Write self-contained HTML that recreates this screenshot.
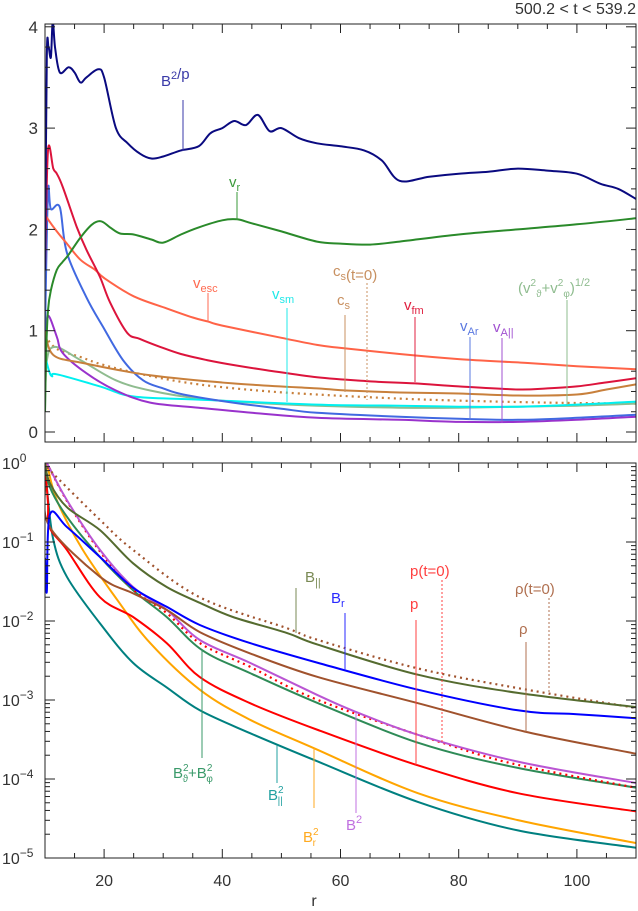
<!DOCTYPE html>
<html><head><meta charset="utf-8"><style>
html,body{margin:0;padding:0;background:#fff;}
svg{display:block;font-family:"Liberation Sans",sans-serif;}
</style></head><body>
<svg id="chart" width="638" height="911" viewBox="0 0 638 911">
<defs>
<clipPath id="ctop"><rect x="45" y="24" width="591" height="418"/></clipPath>
<clipPath id="cbot"><rect x="45" y="463" width="591" height="395"/></clipPath>
</defs>
<text x="636" y="14" text-anchor="end" font-size="16" fill="#333">500.2 &lt; t &lt; 539.2</text>
<g id="top"></g>
<g id="bot"></g>
<g id="labels"></g>
<rect x="45" y="24" width="591" height="418" fill="none" stroke="#222" stroke-width="1"/>
<rect x="45" y="463" width="591" height="395" fill="none" stroke="#222" stroke-width="1"/>
<text x="314" y="906" text-anchor="middle" font-size="16" fill="#333">r</text>
</svg>
<script>
// ---- x axis ----
const xTicks = [20, 40, 60, 80, 100];
// ---- top panel (linear) ----
const topTicks = [0, 1, 2, 3, 4];
const rBp = [10,10.3,10.6,11,11.3,11.7,12.5,14,15,16,17,19,20,22,24,26,28,30,33,36,38,40,42,44,46,48,50,53,56,60,64,67,70,75,80,85,90,95,100,104,107,110];
const vBp = [1.6,3.7,3.8,3.7,4.05,3.8,3.55,3.6,3.55,3.45,3.5,3.58,3.5,3.0,2.85,2.75,2.7,2.72,2.78,2.82,2.95,3.0,3.07,3.03,3.13,2.97,3.0,2.9,2.85,2.82,2.78,2.68,2.48,2.52,2.55,2.57,2.6,2.58,2.55,2.45,2.4,2.3];
const rVr = [10,10.2,10.5,11,12,13,14,16,18,19.5,21,22.7,25,28,30,33,36,40,42.5,45,50,56,60,65,70,80,90,100,110];
const vVr = [0.2,0.8,1.2,1.4,1.6,1.68,1.75,1.92,2.05,2.08,2.02,1.96,1.95,1.9,1.87,1.95,2.02,2.09,2.1,2.06,1.98,1.88,1.86,1.85,1.88,1.95,2.0,2.05,2.11];
const rEsc = [10,10.5,12,13.7,16,18.5,20,25,30.6,35,37.6,40,50,56,60,70,80,92,100,110];
const vEsc = [2.15,2.1,1.98,1.86,1.7,1.6,1.52,1.34,1.22,1.13,1.09,1.05,0.93,0.86,0.83,0.77,0.72,0.68,0.65,0.62];
const rFm = [10,10.5,11.4,12,13,15.4,17,19.3,21,23.9,26,29.5,33,37.4,42,47.5,56,65,72.6,80,90,95,100,105,110];
const vFm = [1.6,2.78,2.6,2.55,2.42,2.02,1.8,1.53,1.28,0.98,0.92,0.84,0.77,0.71,0.66,0.61,0.54,0.5,0.48,0.45,0.42,0.43,0.45,0.49,0.53];
const rAr = [10,10.5,11,12.5,13.7,17,19.8,23.2,26.6,30,33.4,41.8,50,56,70,80,90,100,110];
const vAr = [1.0,2.37,2.2,2.22,1.77,1.33,1.04,0.71,0.51,0.43,0.37,0.29,0.23,0.19,0.15,0.13,0.12,0.14,0.17];
const rApar = [10,10.5,12,13,17,22,27.8,36,45,56,70,80,90,100,110];
const vApar = [0.9,1.15,0.94,0.78,0.58,0.41,0.29,0.24,0.19,0.14,0.12,0.1,0.1,0.12,0.15];
const rVperp = [10,10.3,11.7,16,22,27.8,36,45,56,70,80,90,100,110];
const vVperp = [0.2,0.7,0.84,0.71,0.51,0.41,0.33,0.29,0.26,0.24,0.24,0.25,0.26,0.28];
const rCs = [10,11.4,16.5,27.8,41.8,56,61,70,80,90,100,105,110];
const vCs = [1.0,0.76,0.68,0.56,0.48,0.43,0.41,0.39,0.38,0.36,0.37,0.42,0.47];
const rCs0 = [10,12,16,20,28,36,46,56,70,80,95,110];
const vCs0 = [0.95,0.82,0.74,0.66,0.55,0.47,0.41,0.37,0.33,0.31,0.29,0.28];
const rSm = [10,10.7,11.2,12,19.3,25,36,56,70,80,90,100,110];
const vSm = [0.75,0.6,0.55,0.57,0.45,0.35,0.32,0.27,0.26,0.25,0.25,0.27,0.3];
// ---- bottom panel (log10 values) ----
const logTicks = [0, -1, -2, -3, -4, -5];
const rBpar = [10,10.8,13.7,19.3,24.9,30.6,36.2,41.8,50.9,56.2,73.1,90,110];
const lBpar = [0,-0.25,-0.56,-0.85,-1.27,-1.57,-1.77,-1.95,-2.15,-2.3,-2.68,-2.91,-3.09];
const rRho0 = [10,10.8,19.3,24.9,36.2,50.9,56.2,73.1,90,110];
const lRho0 = [0,-0.09,-0.72,-1.1,-1.7,-2.09,-2.24,-2.6,-2.85,-3.1];
const rBr = [10,10.3,10.8,13.7,19.3,24.9,30.6,36.2,44.7,56.2,73.1,90,100,110];
const lBr = [-1.2,-1.63,-0.66,-0.81,-1.19,-1.58,-1.82,-2.05,-2.28,-2.53,-2.87,-3.13,-3.18,-3.23];
const rRho = [10,10.8,19.3,24.9,30.6,36.2,44.7,56.2,73.1,91.2,110];
const lRho = [-0.3,-0.81,-1.44,-1.65,-1.86,-2.14,-2.41,-2.71,-3.04,-3.4,-3.68];
const rB2 = [10,10.3,13.7,19.3,24.9,30.6,36.2,44.7,56.2,62.6,73.1,90,110];
const lB2 = [0,0,-0.47,-1.1,-1.57,-1.86,-2.24,-2.53,-2.94,-3.15,-3.44,-3.78,-4.05];
const rP0 = [10,10.3,13.7,19.3,24.9,30.6,36.2,44.7,56.2,77.2,90,110];
const lP0 = [0,0,-0.48,-1.12,-1.6,-1.9,-2.28,-2.58,-3.0,-3.54,-3.82,-4.11];
const rBperp = [10,10.8,13.7,19.3,24.9,30.6,36.6,44.7,56.2,73.1,90,110];
const lBperp = [0,-0.3,-0.68,-1.19,-1.61,-1.95,-2.37,-2.66,-3.04,-3.54,-3.86,-4.11];
const rP = [10,10.5,10.8,13.7,19.3,24.9,30.6,36.2,44.7,56.2,72.8,90,110];
const lP = [0,-0.51,-0.82,-1.1,-1.7,-1.95,-2.28,-2.71,-3.04,-3.38,-3.82,-4.18,-4.41];
const rBr2 = [10,10.3,12,16.4,22.2,27.8,36.2,44.7,55.5,73.1,90,110];
const lBr2 = [0,0,-0.47,-1.1,-1.73,-2.28,-2.87,-3.25,-3.61,-4.18,-4.52,-4.81];
const rBpar2 = [10,10.3,11.4,13.7,19.3,24.9,30.6,36.2,44.7,56.2,73.1,90,110];
const lBpar2 = [0,-0.3,-0.97,-1.44,-2.03,-2.53,-2.84,-3.13,-3.42,-3.78,-4.29,-4.65,-4.87];

const NS = 'http://www.w3.org/2000/svg';
function X(r){ return 45 + (r - 10) * 5.91; }
function YT(v){ return 432 - v * 101.3; }
function YB(l){ return 463 - l * 79; }
function mk(tag, attrs, parent){
  const e = document.createElementNS(NS, tag);
  for (const k in attrs) e.setAttribute(k, attrs[k]);
  parent.appendChild(e);
  return e;
}
const topG = document.getElementById('top');
const botG = document.getElementById('bot');
const labG = document.getElementById('labels');
const svg = document.getElementById('chart');

function smoothPath(pts){
  let d = 'M' + pts[0][0].toFixed(1) + ',' + pts[0][1].toFixed(1);
  for (let i = 0; i < pts.length - 1; i++){
    const p0 = pts[Math.max(0, i-1)], p1 = pts[i], p2 = pts[i+1], p3 = pts[Math.min(pts.length-1, i+2)];
    const c1x = p1[0] + (p2[0]-p0[0])/6, c1y = p1[1] + (p2[1]-p0[1])/6;
    const c2x = p2[0] - (p3[0]-p1[0])/6, c2y = p2[1] - (p3[1]-p1[1])/6;
    d += 'C' + c1x.toFixed(1) + ',' + c1y.toFixed(1) + ' ' + c2x.toFixed(1) + ',' + c2y.toFixed(1) + ' ' + p2[0].toFixed(1) + ',' + p2[1].toFixed(1);
  }
  return d;
}
function line(rs, vs, yf, color, name, parent, clip, dotted){
  const pts = rs.map((r,i)=>[X(r), yf(vs[i])]);
  const p = mk('path', {d:smoothPath(pts), fill:'none', stroke:color, 'stroke-width':2, 'clip-path':'url(#'+clip+')', 'stroke-linejoin':'round'}, parent);
  if (dotted){ p.setAttribute('stroke-dasharray','2 4'); p.setAttribute('stroke-width','2.2'); }
  
  
}
// top series
line(rCs0, vCs0, YT, '#c8803c', 'cs-t0-line', topG, 'ctop', true);
line(rVperp, vVperp, YT, '#8fbc8f', 'vperp-line', topG, 'ctop');
line(rSm, vSm, YT, '#00f0f0', 'vsm-line', topG, 'ctop');
line(rApar, vApar, YT, '#9932cc', 'va-par-line', topG, 'ctop');
line(rAr, vAr, YT, '#4169e1', 'var-line', topG, 'ctop');
line(rCs, vCs, YT, '#c8803c', 'cs-line', topG, 'ctop');
line(rEsc, vEsc, YT, '#ff6347', 'vesc-line', topG, 'ctop');
line(rFm, vFm, YT, '#dc143c', 'vfm-line', topG, 'ctop');
line(rVr, vVr, YT, '#2a8a2a', 'vr-line', topG, 'ctop');
line(rBp, vBp, YT, '#0a0a80', 'b2-over-p-line', topG, 'ctop');
// bottom series
line(rBpar2, lBpar2, YB, '#008080', 'bpar2-line', botG, 'cbot');
line(rBr2, lBr2, YB, '#ffa500', 'br2-line', botG, 'cbot');
line(rP, lP, YB, '#ff0000', 'p-line', botG, 'cbot');
line(rBperp, lBperp, YB, '#2e8b57', 'bperp2-line', botG, 'cbot');
line(rP0, lP0, YB, '#ff0000', 'p-t0-line', botG, 'cbot', true);
line(rB2, lB2, YB, '#ba55d3', 'b2-line', botG, 'cbot');
line(rRho, lRho, YB, '#a0522d', 'rho-line', botG, 'cbot');
line(rBr, lBr, YB, '#0000ff', 'br-line', botG, 'cbot');
line(rRho0, lRho0, YB, '#a0522d', 'rho-t0-line', botG, 'cbot', true);
line(rBpar, lBpar, YB, '#556b2f', 'bpar-line', botG, 'cbot');

// ticks
const tk = mk('g', {stroke:'#222','stroke-width':1}, svg);


for (let r = 15; r < 110; r += 5){
  const x = X(r), len = (r % 20 === 0) ? 9 : 5;
  [[24,1],[442,-1],[463,1],[858,-1]].forEach(([y,s])=>mk('line',{x1:x,x2:x,y1:y,y2:y+s*len},tk));
}
for (let v = 0; v <= 4.01; v += 0.2){
  const y = YT(v), major = Math.abs(v - Math.round(v)) < 1e-6, len = major ? 10 : 5;
  mk('line',{x1:45,x2:45+len,y1:y,y2:y},tk);
  mk('line',{x1:636,x2:636-len,y1:y,y2:y},tk);
}
for (let d = -5; d < 0; d++){
  for (let m = 1; m <= 9; m++){
    const l = d + Math.log10(m), y = YB(l), len = m === 1 ? 10 : 5;
    mk('line',{x1:45,x2:45+len,y1:y,y2:y},tk);
    mk('line',{x1:636,x2:636-len,y1:y,y2:y},tk);
  }
}
// tick labels
xTicks.forEach(r=>{
  const t = mk('text',{x:X(r),y:886,'text-anchor':'middle','font-size':16,fill:'#333'},svg);
  t.textContent = r;
  
  
});
topTicks.forEach(v=>{
  const t = mk('text',{x:38,y:YT(v)+6,'text-anchor':'end','font-size':17,fill:'#333'},svg);
  t.textContent = v;
  
  
});
logTicks.forEach(l=>{
  const t = mk('text',{x:2,y:YB(l)+6,'font-size':16,fill:'#333'},svg);
  
  
  t.innerHTML = '10<tspan dy="-7" font-size="12">'+(l===0?'0':'\u2212'+(-l))+'</tspan>';
});

// curve labels with marker lines
function lab(html, x, y, color, name, lx, y1, y2, dotted){
  const t = mk('text',{x:x,y:y,'font-size':15,fill:color},labG);
  t.innerHTML = html;
  
  
  const l = mk('line',{x1:lx,x2:lx,y1:y1,y2:y2,stroke:color,'stroke-width':1},labG);
  if (dotted) l.setAttribute('stroke-dasharray','2 2');
  
  
}
const sub = s=>'<tspan dy="4" font-size="11">'+s+'</tspan><tspan dy="-4"></tspan>';
const sup = s=>'<tspan dy="-7" font-size="11">'+s+'</tspan><tspan dy="7"></tspan>';
lab('B'+sup('2')+'/p', 161, 86, '#3a3aa8', 'label-b2-over-p', 183, 100, 151);
lab('v'+sub('r'), 229, 187, '#3a9a3a', 'label-vr', 237, 192, 220);
lab('v'+sub('esc'), 193, 288, '#ff6a50', 'label-vesc', 208, 293, 322);
lab('v'+sub('sm'), 272, 299, '#20e8e8', 'label-vsm', 287, 308, 402);
lab('c'+sub('s')+'(t=0)', 333, 276, '#c89060', 'label-cs-t0', 367, 283, 400, true);
lab('c'+sub('s'), 337, 305, '#c89060', 'label-cs', 345, 315, 392);
lab('v'+sub('fm'), 404, 310, '#e02040', 'label-vfm', 415, 317, 382);
lab('v'+sub('Ar'), 460, 331, '#5a78e0', 'label-var', 470, 337, 420);
lab('v'+sub('A||'), 493, 332, '#a050d0', 'label-va-par', 502, 338, 423);
lab('(v'+'<tspan dy="-7" font-size="10">2</tspan><tspan dy="11" font-size="10">\u03d1</tspan><tspan dy="-4">+v</tspan><tspan dy="-7" font-size="10">2</tspan><tspan dy="11" font-size="10">\u03c6</tspan><tspan dy="-4">)</tspan>'+sup('1/2'), 518, 293, '#8fbc8f', 'label-vperp', 567, 300, 405);
lab('B'+sub('||'), 305, 582, '#7a8a55', 'label-bpar', 296, 588, 633);
lab('B'+sub('r'), 331, 603, '#2a2aff', 'label-br', 345, 613, 670);
lab('p(t=0)', 410, 576, '#ff4040', 'label-p-t0', 442, 580, 743, true);
lab('p', 410, 609, '#ff4040', 'label-p', 416, 620, 765);
lab('\u03c1(t=0)', 515, 594, '#b07050', 'label-rho-t0', 549, 598, 695, true);
lab('\u03c1', 519, 634, '#b07050', 'label-rho', 526, 642, 732);
lab('B'+sup('2'), 346, 830, '#c070e0', 'label-b2', 356, 713, 813);
lab('B<tspan dy="-7" font-size="10">2</tspan><tspan dx="-6" dy="11" font-size="10">r</tspan>', 303, 842, '#ffaa20', 'label-br2', 314, 748, 808);
lab('B<tspan dy="-7" font-size="10">2</tspan><tspan dx="-6" dy="11" font-size="10">||</tspan>', 268, 800, '#20a0a0', 'label-bpar2', 277, 745, 783);
lab('B<tspan dy="-7" font-size="10">2</tspan><tspan dx="-6" dy="11" font-size="10">\u03d1</tspan><tspan dy="-4">+B</tspan><tspan dy="-7" font-size="10">2</tspan><tspan dx="-6" dy="11" font-size="10">\u03c6</tspan>', 173, 778, '#3a9a6a', 'label-bperp2', 202, 650, 758);
</script>
</body></html>
